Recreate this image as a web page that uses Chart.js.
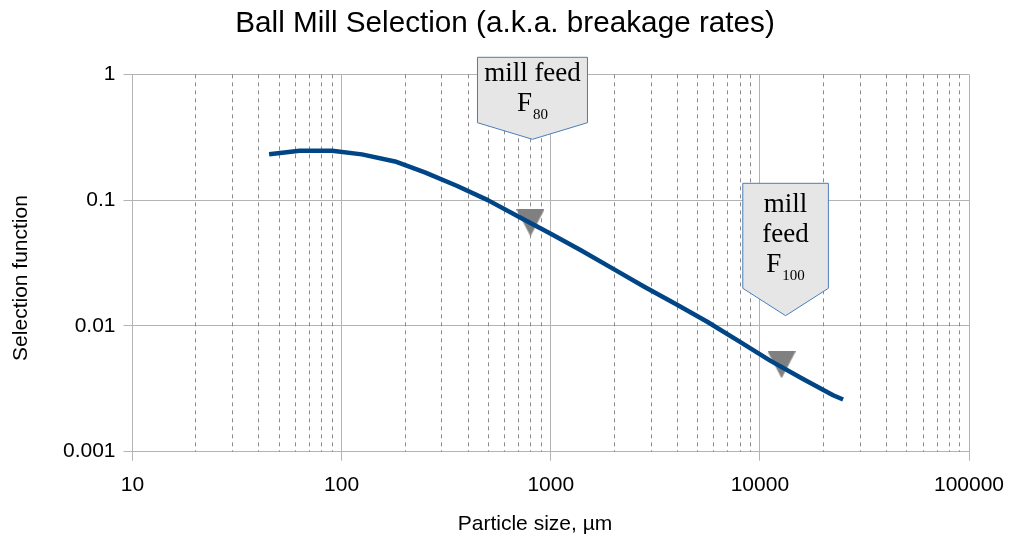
<!DOCTYPE html>
<html>
<head>
<meta charset="utf-8">
<title>Ball Mill Selection</title>
<script src="https://cdn.jsdelivr.net/npm/chart.js@4.4.1/dist/chart.umd.min.js"></script>
<style>
  html, body { margin: 0; padding: 0; background: #ffffff; }
  #wrap { width: 1011px; height: 537px; }
</style>
</head>
<body>
<div id="wrap"><canvas id="chart" width="1011" height="537"></canvas></div>
<script>
// Selection function (breakage rate) versus particle size
const particleSizes = [45, 63, 90, 125, 180, 250, 355, 500, 710, 1000, 1400, 2000, 2800, 4000, 5600, 8000, 11200, 16000, 22400, 25000];
const selectionValues = [0.232, 0.247, 0.247, 0.231, 0.203, 0.166, 0.130, 0.100, 0.073, 0.054, 0.0397, 0.0283, 0.0205, 0.0148, 0.0108, 0.0075, 0.0053, 0.0038, 0.00281, 0.0026];

// Feed size markers (F80 and F100)
const feedSizes = [800, 12700];
const feedSelection = [0.066, 0.0049];
const feedCaptions = [['mill feed'], ['mill', 'feed']];
const feedSubscripts = ['80', '100'];

// Axis labels
const xTickLabels = ['10', '100', '1000', '10000', '100000'];
const yTickLabels = ['0.001', '0.01', '0.1', '1'];
const chartTitle = 'Ball Mill Selection (a.k.a. breakage rates)';
const xTitle = 'Particle size, \u00b5m';
const yTitle = 'Selection function';

const SANS = "'Liberation Sans', Arial, sans-serif";
const SERIF = "'Liberation Serif', 'Times New Roman', serif";
const MAJOR_GRID = '#b3b3b3';

function decadeIndex(v) {
  const e = Math.log10(v);
  const r = Math.round(e);
  return Math.abs(e - r) < 1e-6 ? r : null;
}

// Downward-pointing marker
function makeTriangle(w, h, color) {
  const c = document.createElement('canvas');
  c.width = w; c.height = h;
  const g = c.getContext('2d');
  g.fillStyle = color;
  g.beginPath();
  g.moveTo(0, 0);
  g.lineTo(w, 0);
  g.lineTo(w / 2, h);
  g.closePath();
  g.fill();
  return c;
}
const triangle = makeTriangle(28, 27, '#808080');

// Dashed minor grid lines on the size axis
const minorGrid = {
  id: 'minorGrid',
  beforeDatasetsDraw(chart) {
    const x = chart.scales.x;
    const area = chart.chartArea;
    const ctx = chart.ctx;
    ctx.save();
    ctx.strokeStyle = '#8a8a8a';
    ctx.lineWidth = 1;
    ctx.setLineDash([4, 4]);
    for (let d = 10; d < 100000; d *= 10) {
      for (let k = 2; k <= 9; k++) {
        const px = Math.round(x.getPixelForValue(k * d)) + 0.5;
        ctx.beginPath();
        ctx.moveTo(px, area.top);
        ctx.lineTo(px, area.bottom);
        ctx.stroke();
      }
    }
    ctx.restore();
  }
};

// Axis titles
const axisTitles = {
  id: 'axisTitles',
  afterDraw(chart) {
    const ctx = chart.ctx;
    ctx.save();
    ctx.fillStyle = '#000';
    ctx.font = '21px ' + SANS;
    ctx.textAlign = 'center';
    ctx.textBaseline = 'middle';
    ctx.fillText(xTitle, 535, 524);
    ctx.translate(21, 278);
    ctx.rotate(-Math.PI / 2);
    ctx.fillText(yTitle, 0, 0);
    ctx.restore();
  }
};

// Pentagon callouts above each feed marker
const calloutBoxes = [
  { dx: 2, top: 57.3, width: 110, boxH: 65.4, tipH: 16.6 },
  { dx: 4, top: 183.3, width: 85.6, boxH: 105, tipH: 27.4 }
];
const callouts = {
  id: 'callouts',
  afterDraw(chart) {
    const ctx = chart.ctx;
    const x = chart.scales.x;
    calloutBoxes.forEach((b, i) => {
      const cx = x.getPixelForValue(feedSizes[i]) + b.dx;
      const l = cx - b.width / 2, r = cx + b.width / 2;
      const t = b.top, bb = b.top + b.boxH, tip = bb + b.tipH;
      ctx.save();
      ctx.beginPath();
      ctx.moveTo(l, t);
      ctx.lineTo(r, t);
      ctx.lineTo(r, bb);
      ctx.lineTo(cx, tip);
      ctx.lineTo(l, bb);
      ctx.closePath();
      ctx.fillStyle = '#e6e6e6';
      ctx.fill();
      ctx.strokeStyle = '#4a7ebb';
      ctx.lineWidth = 1;
      ctx.stroke();

      const lines = feedCaptions[i];
      const n = lines.length + 1;
      const step = 30;
      const first = t + (b.boxH - step * (n - 1)) / 2 + 5.8;
      ctx.fillStyle = '#000';
      ctx.textBaseline = 'alphabetic';
      ctx.textAlign = 'center';
      ctx.font = '27px ' + SERIF;
      lines.forEach((s, j) => ctx.fillText(s, cx, first + j * step));
      // F with subscript
      const fy = first + (n - 1) * step;
      ctx.font = '27px ' + SERIF;
      const fw = ctx.measureText('F').width;
      ctx.font = '15px ' + SERIF;
      const sw = ctx.measureText(feedSubscripts[i]).width;
      const start = cx - (fw + sw + 1) / 2;
      ctx.textAlign = 'left';
      ctx.font = '27px ' + SERIF;
      ctx.fillText('F', start, fy);
      ctx.font = '15px ' + SERIF;
      ctx.fillText(feedSubscripts[i], start + fw + 1, fy + 8);
      ctx.restore();
    });
  }
};

const curve = particleSizes.map((s, i) => ({ x: s, y: selectionValues[i] }));
const feeds = feedSizes.map((s, i) => ({ x: s, y: feedSelection[i] }));

new Chart(document.getElementById('chart'), {
  type: 'scatter',
  data: {
    datasets: [
      {
        label: 'Selection',
        data: curve,
        showLine: true,
        borderColor: '#004586',
        backgroundColor: '#004586',
        borderWidth: 4.5,
        borderJoinStyle: 'round',
        pointRadius: 0,
        pointHoverRadius: 0,
        tension: 0,
        order: 0
      },
      {
        label: 'Feed',
        data: feeds,
        showLine: false,
        pointStyle: triangle,
        pointRadius: 14,
        order: 1
      }
    ]
  },
  options: {
    responsive: false,
    animation: false,
    devicePixelRatio: 1,
    layout: { padding: { left: 0, right: 1, top: 0, bottom: 0 } },
    plugins: {
      legend: { display: false },
      tooltip: { enabled: false },
      title: {
        display: true,
        text: chartTitle,
        color: '#000',
        font: { family: SANS, size: 29.7, weight: 'normal', lineHeight: 1.2 },
        padding: { top: 6, bottom: 32.7 }
      }
    },
    scales: {
      x: {
        type: 'logarithmic',
        position: 'bottom',
        min: 10,
        max: 100000,
        afterFit(s) { s.height = 85.3; s.paddingRight = 41; },
        border: { display: true, color: MAJOR_GRID, width: 1 },
        grid: {
          color: c => (c.tick && decadeIndex(c.tick.value) !== null) ? MAJOR_GRID : 'rgba(0,0,0,0)',
          tickColor: c => (c.tick && decadeIndex(c.tick.value) !== null) ? MAJOR_GRID : 'rgba(0,0,0,0)',
          lineWidth: 1,
          tickLength: 9
        },
        ticks: {
          autoSkip: false,
          maxRotation: 0,
          minRotation: 0,
          padding: 12,
          color: '#000',
          font: { family: SANS, size: 21 },
          callback: v => { const r = decadeIndex(v); return r === null ? '' : xTickLabels[r - 1]; }
        }
      },
      y: {
        type: 'logarithmic',
        position: 'left',
        min: 0.001,
        max: 1,
        afterFit(s) { s.width = 132.5; },
        border: { display: true, color: MAJOR_GRID, width: 1 },
        grid: {
          color: c => (c.tick && decadeIndex(c.tick.value) !== null) ? MAJOR_GRID : 'rgba(0,0,0,0)',
          tickColor: c => (c.tick && decadeIndex(c.tick.value) !== null) ? MAJOR_GRID : 'rgba(0,0,0,0)',
          lineWidth: 1,
          tickLength: 9
        },
        ticks: {
          autoSkip: false,
          padding: 8,
          color: '#000',
          font: { family: SANS, size: 21 },
          callback: v => { const r = decadeIndex(v); return r === null ? '' : yTickLabels[r + 3]; }
        }
      },
      spacer: {
        type: 'linear',
        position: 'right',
        display: true,
        afterFit(s) { s.width = 41; },
        border: { display: false },
        grid: { display: false, drawTicks: false },
        ticks: { display: false }
      }
    }
  },
  plugins: [minorGrid, axisTitles, callouts]
});
</script>
</body>
</html>
